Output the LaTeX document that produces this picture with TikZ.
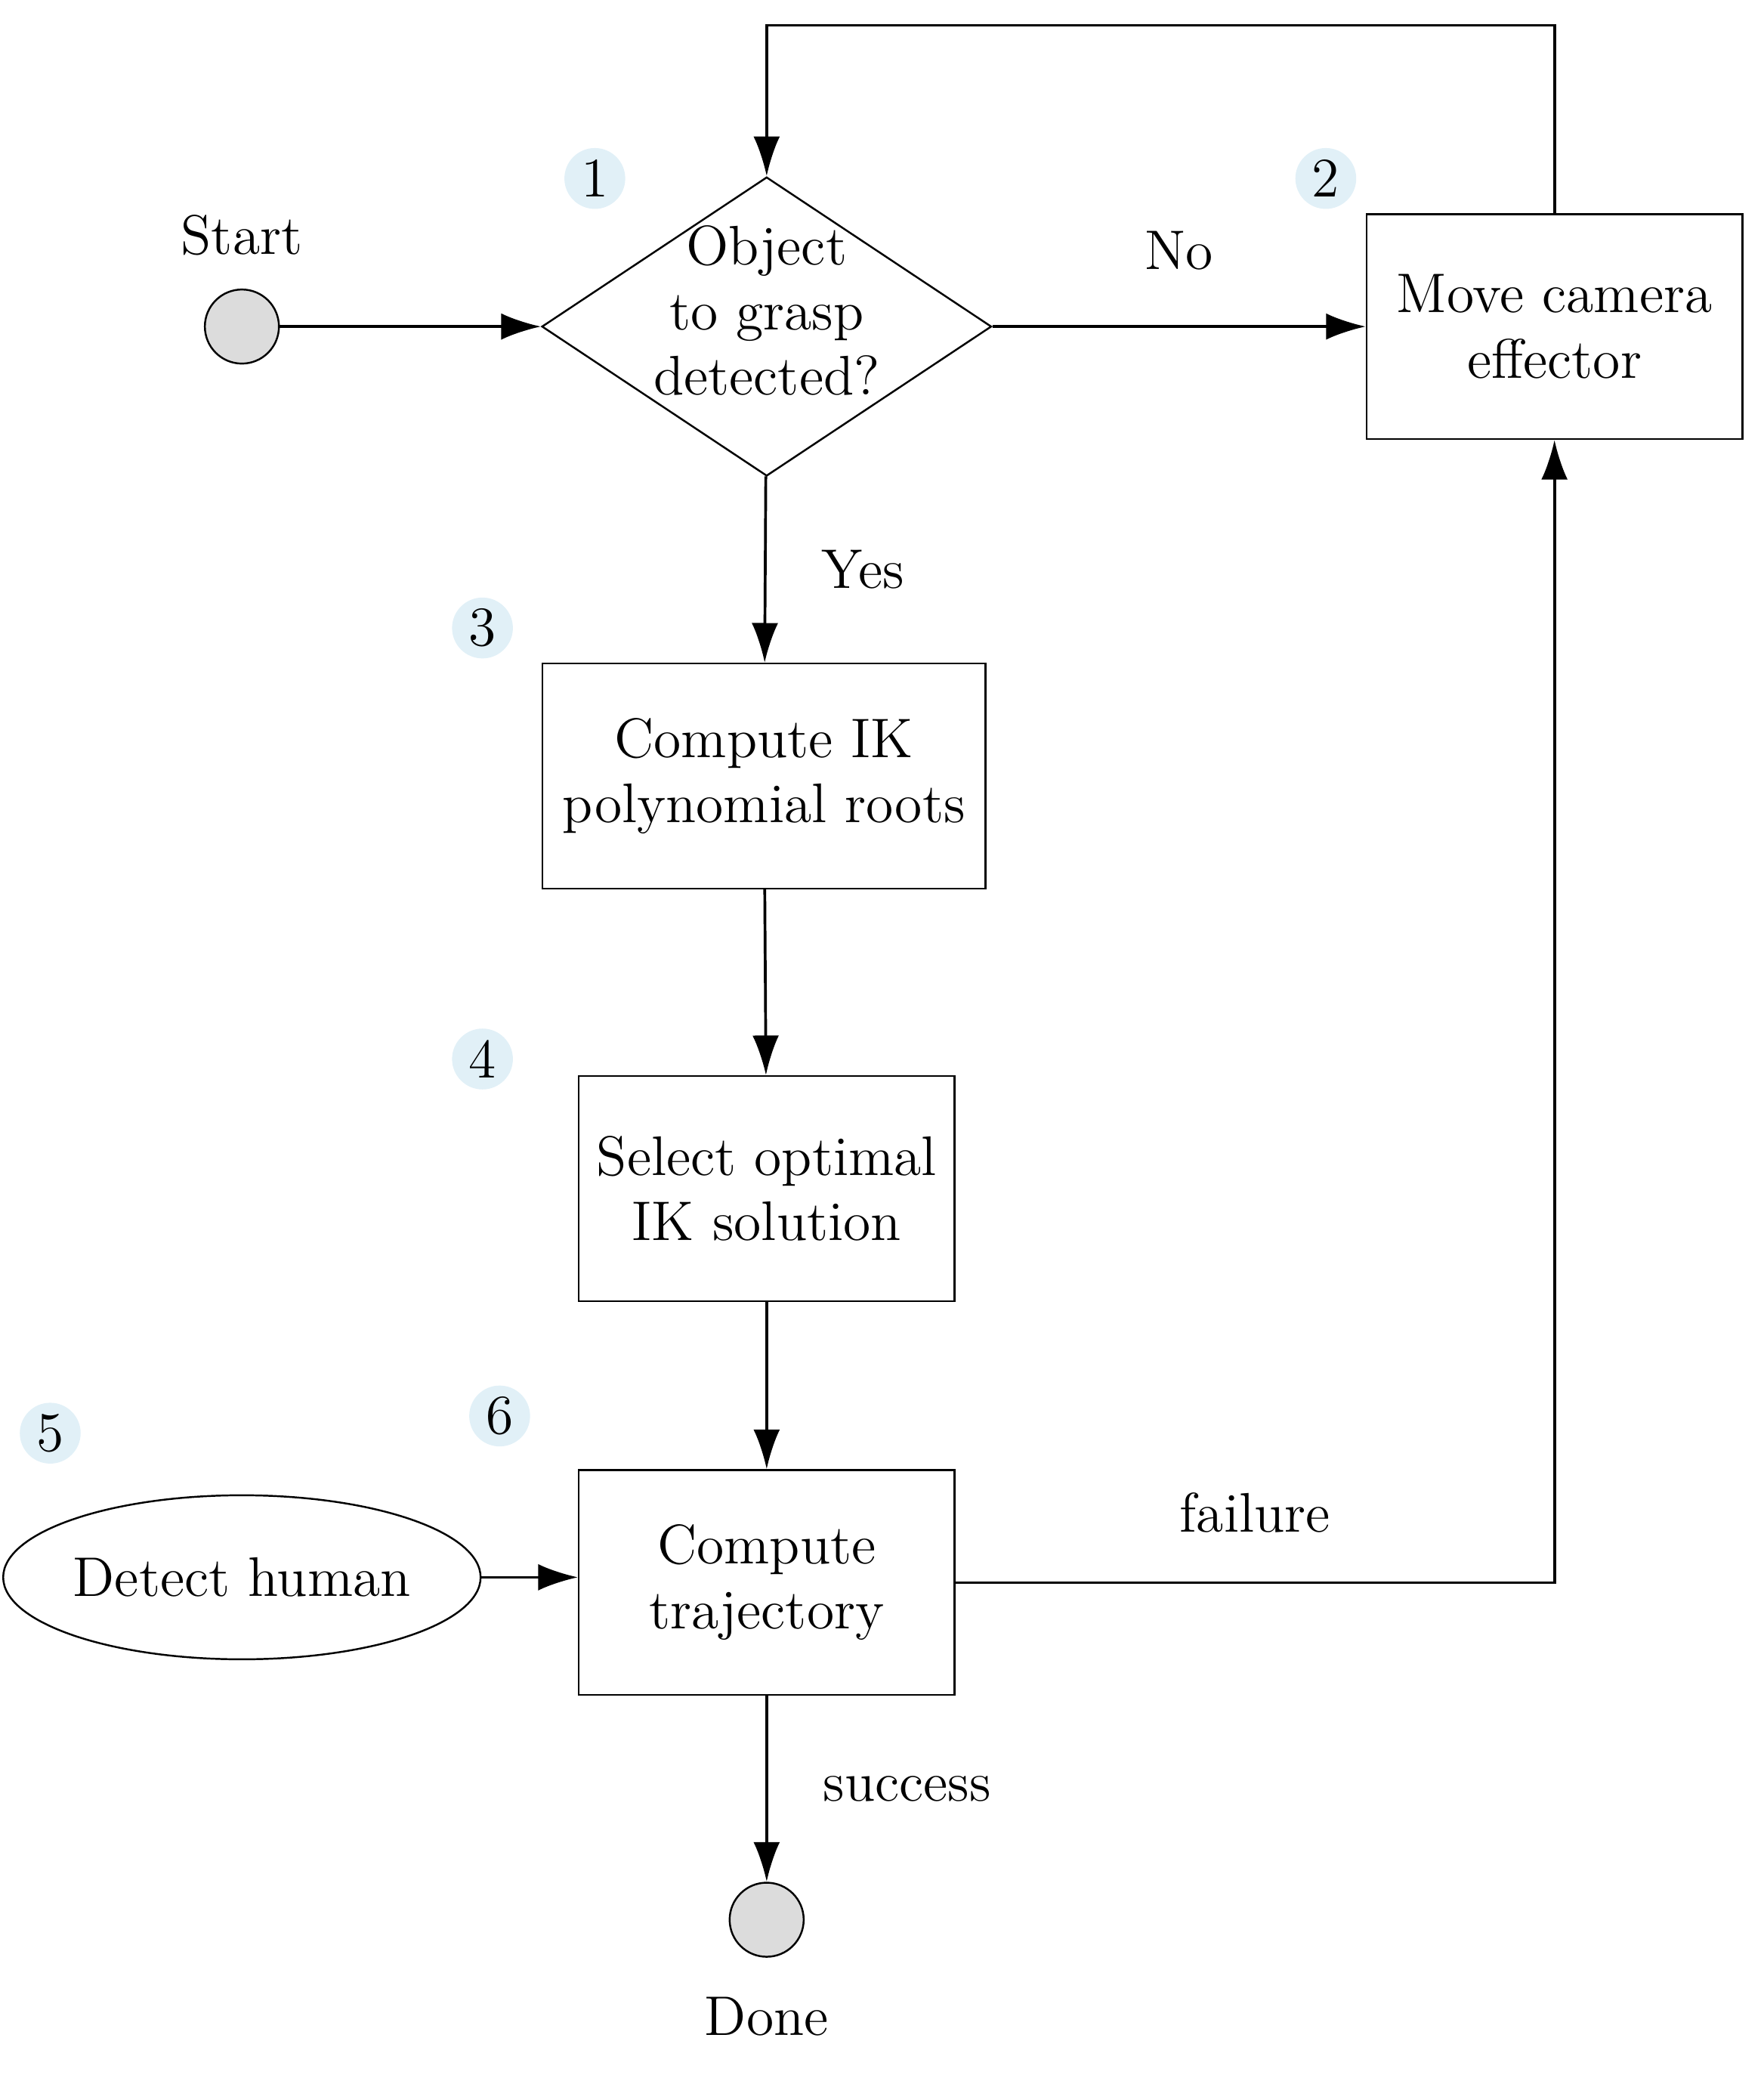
\documentclass[tikz,border=0pt]{standalone}
\usepackage{amsmath}
\usepackage{tikz}
\usetikzlibrary{arrows.meta,shapes.geometric}
\definecolor{badge_fill}{RGB}{225, 240, 247}
\definecolor{term_fill}{RGB}{220, 220, 220}

\tikzset{
  box/.style={draw, rectangle, minimum width=2.84cm, minimum height=1.7cm, align=center, font=\large},
  term/.style={draw, circle, fill=term_fill, minimum size=0.56cm, inner sep=0pt},
  badge/.style={circle, fill=badge_fill, minimum size=0.46cm, inner sep=0pt, font=\large},
  flow/.style={-{Latex[length=3mm,width=2mm]}, semithick},
  lbl/.style={font=\large}
}

\begin{document}
\begin{tikzpicture}[x=0.01cm, y=-0.01cm]
\useasboundingbox (0,0) rectangle (1334,1574);

\node[term] (start) at (183,247) {};
\node[lbl] (startlbl) at (183,178) {Start};
\node[draw, diamond, aspect=1.5, minimum width=3.4cm, minimum height=2.26cm, inner sep=0pt] (detect) at (580,247) {};
\node[lbl, align=center] (detecttxt) at (580,235) {Object\\to grasp\\detected?};
\node[box] (move) at (1176,247) {Move camera\\effector};
\node[box, minimum width=3.35cm] (ik) at (578,587) {Compute IK\\polynomial roots};
\node[box] (select) at (580,899) {Select optimal\\IK solution};
\node[box] (traj) at (580,1197) {Compute\\trajectory};
\node[draw, ellipse, minimum width=2.9cm, minimum height=1.24cm, inner sep=0pt, font=\large] (human) at (183,1193) {Detect human};
\node[term] (done) at (580,1452) {};
\node[lbl] (donelbl) at (580,1525) {Done};

% step numbers
\node[badge] (b1) at (450,135) {1};
\node[badge] (b2) at (1003,135) {2};
\node[badge] (b3) at (365,475) {3};
\node[badge] (b4) at (365,801) {4};
\node[badge] (b5) at (38,1084) {5};
\node[badge] (b6) at (378,1071) {6};

\draw[flow] (start) -- (detect);
\draw[flow] (detect) -- node[lbl, above=0.3cm] {No} (move);
\draw[flow] (detect) -- node[lbl, right=0.3cm] {Yes} (ik);
\draw[flow] (ik) -- (select);
\draw[flow] (select) -- (traj);
\draw[flow] (human.east) -- (traj.west |- human.east);
\draw[flow] (traj) -- node[lbl, right=0.3cm] {success} (done);
\draw[flow] (move.north) -- ++(0,-142) -| (detect.north);
\draw[flow] (traj.east) -- node[lbl, above=0.25cm] {failure} (traj.east -| move) -- (move.south);

\end{tikzpicture}
\end{document}
